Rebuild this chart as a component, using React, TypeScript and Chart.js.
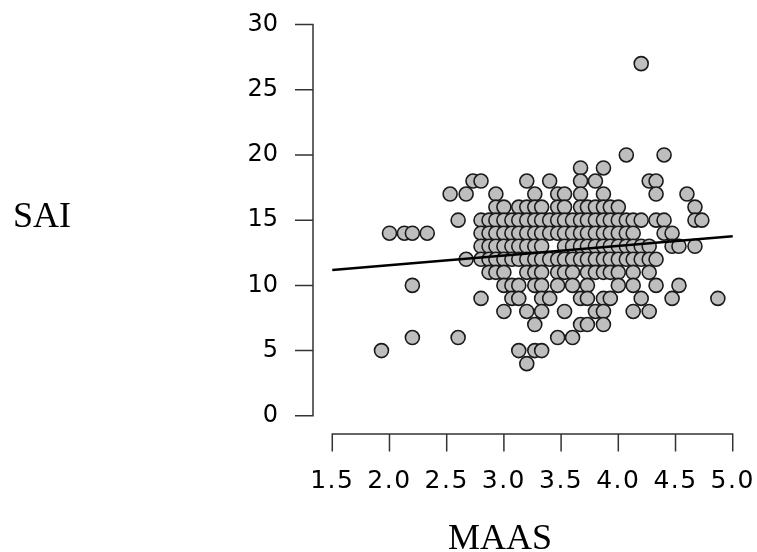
import React, { useEffect, useRef } from 'react';
import { Chart, registerables } from 'chart.js';

Chart.register(...registerables);

// ---- text ----
const xTitle = 'MAAS';
const yTitle = 'SAI';

// ---- axis ticks ----
const xTickValues = [1.5, 2.0, 2.5, 3.0, 3.5, 4.0, 4.5, 5.0];
const xTickLabels = ['1.5', '2.0', '2.5', '3.0', '3.5', '4.0', '4.5', '5.0'];
const yTickValues = [0, 5, 10, 15, 20, 25, 30];
const yTickLabels = ['0', '5', '10', '15', '20', '25', '30'];

// ---- data: SAI score levels and the MAAS scores observed at each level ----
const saiLevels = [27, 20, 19, 18, 17, 16, 15, 14, 13, 12, 11, 10, 9, 8, 7, 6, 5, 4];
const maasAt27 = [4.2];
const maasAt20 = [4.07, 4.4];
const maasAt19 = [3.67, 3.87];
const maasAt18 = [2.73, 2.8, 3.2, 3.4, 3.67, 3.8, 4.27, 4.33];
const maasAt17 = [2.53, 2.67, 2.93, 3.27, 3.47, 3.53, 3.67, 3.87, 4.33, 4.6];
const maasAt16 = [2.93, 3.0, 3.13, 3.2, 3.27, 3.33, 3.47, 3.53, 3.67, 3.73, 3.8, 3.87, 3.93, 4.0, 4.67];
const maasAt15 = [2.6, 2.8, 2.87, 2.93, 3.0, 3.07, 3.13, 3.2, 3.27, 3.33, 3.4, 3.47, 3.53, 3.6, 3.67, 3.73, 3.8, 3.87, 3.93, 4.0, 4.07, 4.13, 4.2, 4.33, 4.4, 4.67, 4.73];
const maasAt14 = [2.0, 2.13, 2.2, 2.33, 2.8, 2.87, 2.93, 3.0, 3.07, 3.13, 3.2, 3.27, 3.33, 3.4, 3.47, 3.53, 3.6, 3.67, 3.73, 3.8, 3.87, 3.93, 4.0, 4.07, 4.13, 4.4, 4.47];
const maasAt13 = [2.8, 2.87, 2.93, 3.0, 3.07, 3.13, 3.2, 3.27, 3.33, 3.53, 3.6, 3.67, 3.73, 3.8, 3.87, 3.93, 4.0, 4.07, 4.13, 4.2, 4.27, 4.47, 4.53, 4.67];
const maasAt12 = [2.67, 2.8, 2.87, 2.93, 3.0, 3.07, 3.13, 3.2, 3.27, 3.33, 3.4, 3.47, 3.53, 3.6, 3.67, 3.73, 3.8, 3.87, 3.93, 4.0, 4.07, 4.13, 4.2, 4.27, 4.33];
const maasAt11 = [2.87, 2.93, 3.0, 3.2, 3.27, 3.33, 3.47, 3.53, 3.6, 3.73, 3.8, 3.87, 3.93, 4.0, 4.13, 4.27];
const maasAt10 = [2.2, 3.0, 3.07, 3.13, 3.27, 3.33, 3.47, 3.6, 3.73, 4.0, 4.13, 4.33, 4.53];
const maasAt9 = [2.8, 3.07, 3.13, 3.33, 3.4, 3.67, 3.73, 3.87, 3.93, 4.2, 4.47, 4.87];
const maasAt8 = [3.0, 3.2, 3.33, 3.53, 3.8, 3.87, 4.13, 4.27];
const maasAt7 = [3.27, 3.67, 3.73, 3.87];
const maasAt6 = [2.2, 2.6, 3.47, 3.6];
const maasAt5 = [1.93, 3.13, 3.27, 3.33];
const maasAt4 = [3.2];
const maasByLevel = [
  maasAt27, maasAt20, maasAt19, maasAt18, maasAt17, maasAt16, maasAt15, maasAt14, maasAt13,
  maasAt12, maasAt11, maasAt10, maasAt9, maasAt8, maasAt7, maasAt6, maasAt5, maasAt4,
];

// ---- fitted regression line end points ----
const fitLineMaas = [1.5, 5.0];
const fitLineSai = [11.18, 13.77];

const SANS = '"DejaVu Sans", "Liberation Sans", Arial, sans-serif';
const SERIF = '"Liberation Serif", "Times New Roman", serif';

const rAxesPlugin = {
  id: 'rAxes',
  afterDraw(chart: any) {
    const { ctx, chartArea, scales } = chart;
    const xs = scales.x;
    const ys = scales.y;
    ctx.save();
    ctx.strokeStyle = '#333333';
    ctx.lineWidth = 1.5;
    ctx.lineCap = 'butt';
    // y axis (spans first..last tick)
    const ax = chartArea.left;
    ctx.beginPath();
    ctx.moveTo(ax, ys.getPixelForValue(yTickValues[0]));
    ctx.lineTo(ax, ys.getPixelForValue(yTickValues[yTickValues.length - 1]));
    for (const v of yTickValues) {
      const p = ys.getPixelForValue(v);
      ctx.moveTo(ax + 0.75, p);
      ctx.lineTo(ax - 18, p);
    }
    ctx.stroke();
    // x axis
    const ay = chartArea.bottom;
    ctx.beginPath();
    ctx.moveTo(xs.getPixelForValue(xTickValues[0]), ay);
    ctx.lineTo(xs.getPixelForValue(xTickValues[xTickValues.length - 1]), ay);
    for (const v of xTickValues) {
      const p = xs.getPixelForValue(v);
      ctx.moveTo(p, ay - 0.75);
      ctx.lineTo(p, ay + 17.5);
    }
    ctx.stroke();
    // axis titles (R style, horizontal)
    ctx.fillStyle = '#000000';
    ctx.font = '36px ' + SERIF;
    ctx.textBaseline = 'alphabetic';
    ctx.textAlign = 'left';
    ctx.fillText(yTitle, 13, 227);
    ctx.textAlign = 'center';
    ctx.fillText(xTitle, 500, 549);
    ctx.restore();
  },
};

export default function App() {
  const canvasRef = useRef<HTMLCanvasElement | null>(null);

  useEffect(() => {
    const canvas = canvasRef.current;
    if (!canvas) return;

    const points = saiLevels.flatMap((sai, i) => maasByLevel[i].map((m) => ({ x: m, y: sai })));
    const linePoints = fitLineMaas.map((m, i) => ({ x: m, y: fitLineSai[i] }));

    const zeroPad = (s: any) => {
      s.paddingTop = 0;
      s.paddingBottom = 0;
      s.paddingLeft = 0;
      s.paddingRight = 0;
    };

    const chart = new Chart(canvas, {
      type: 'scatter',
      data: {
        datasets: [
          {
            type: 'line',
            data: linePoints,
            borderColor: '#000000',
            borderWidth: 2.6,
            pointRadius: 0,
            fill: false,
            order: 0,
          } as any,
          {
            type: 'scatter',
            data: points,
            backgroundColor: '#bebebe',
            borderColor: '#1a1a1a',
            borderWidth: 1.6,
            pointRadius: 7,
            pointHoverRadius: 7,
            order: 1,
          },
        ],
      },
      options: {
        animation: false,
        responsive: false,
        devicePixelRatio: 1,
        layout: { padding: { left: 0, right: 8, top: 6, bottom: 0 } },
        plugins: {
          legend: { display: false },
          tooltip: { enabled: false },
        },
        scales: {
          x: {
            type: 'linear',
            min: 1.3315,
            max: 5.137,
            grid: { display: false, drawTicks: false, tickLength: 0 },
            border: { display: false },
            afterBuildTicks: (s: any) => {
              s.ticks = xTickValues.map((v) => ({ value: v }));
            },
            afterFit: (s: any) => {
              s.height = 118;
              zeroPad(s);
              if (!s.__spaced) {
                const orig = s.drawLabels;
                s.drawLabels = function (area: any) {
                  const c = this.ctx;
                  c.save();
                  if ('letterSpacing' in c) (c as any).letterSpacing = '1.5px';
                  orig.call(this, area);
                  c.restore();
                };
                s.__spaced = true;
              }
            },
            ticks: {
              autoSkip: false,
              maxRotation: 0,
              minRotation: 0,
              padding: 32,
              color: '#000000',
              font: { family: SANS, size: 25 },
              callback: (_v: any, i: number) => xTickLabels[i],
            },
          },
          y: {
            type: 'linear',
            min: -1.394,
            max: 31.219,
            grid: { display: false, drawTicks: false, tickLength: 0 },
            border: { display: false },
            afterBuildTicks: (s: any) => {
              s.ticks = yTickValues.map((v) => ({ value: v }));
            },
            afterFit: (s: any) => {
              s.width = 313;
              zeroPad(s);
            },
            ticks: {
              autoSkip: false,
              padding: 35,
              color: '#000000',
              font: { family: SANS, size: 24 },
              callback: (_v: any, i: number) => yTickLabels[i],
            },
          },
        },
      },
      plugins: [rAxesPlugin],
    });

    return () => {
      chart.destroy();
    };
  }, []);

  return (
    <div style={{ position: 'fixed', left: 0, top: 0, width: 757, height: 552, background: '#ffffff' }}>
      <canvas ref={canvasRef} width={757} height={552} style={{ display: 'block' }} />
    </div>
  );
}
